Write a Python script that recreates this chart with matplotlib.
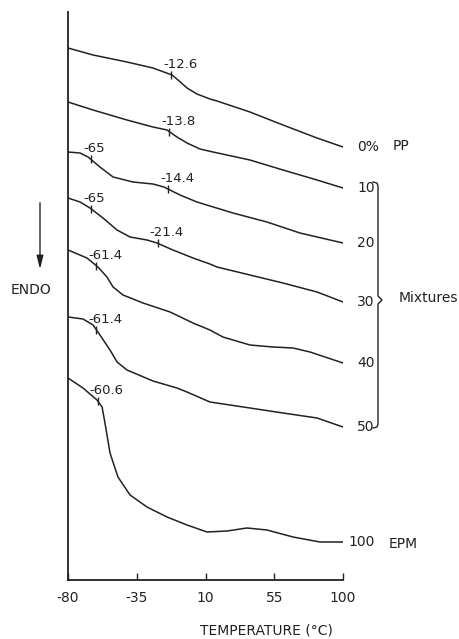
import numpy as np
import matplotlib.pyplot as plt

plt.rcParams['font.family'] = 'DejaVu Sans'
plt.rcParams['axes.unicode_minus'] = False

# DSC traces of PP/EPM mixtures (heat flow in arbitrary units, curves offset)
t_pp0 = [-80, -63.6, -41.4, -24.4, -11.9, -8.0, -2.1, 4.4, 12.9, 17.5, 39.1, 60.7, 83.0, 100]
y_pp0 = [532, 525, 518, 512, 505, 500, 492, 486, 481, 479, 468, 455, 442, 433]

t_pp10 = [-80, -63.6, -41.4, -24.4, -15.2, -8.7, -2.1, 6.4, 14.9, 39.1, 60.7, 83.0, 100]
y_pp10 = [478, 470, 460, 453, 450, 443, 437, 431, 428, 420, 410, 400, 392]

t_pp20 = [-80, -72.1, -66.9, -59.1, -50.5, -37.5, -24.4, -17.2, -6.7, 4.4, 12.9, 28.0, 50.2, 71.8, 100]
y_pp20 = [428, 427, 423, 413, 403, 398, 396, 393, 385, 378, 374, 367, 358, 347, 337]

t_pp30 = [-80, -72.1, -65.6, -57.1, -47.9, -39.4, -28.3, -21.8, -11.3, 1.8, 12.9, 17.5, 39.1, 60.7, 83.0, 100]
y_pp30 = [382, 378, 372, 362, 350, 343, 340, 337, 330, 322, 316, 313, 305, 297, 288, 278]

t_pp40 = [-80, -67.6, -60.4, -54.5, -50.5, -44.0, -30.9, -13.2, 1.8, 12.9, 21.4, 39.1, 54.2, 67.3, 78.4, 100]
y_pp40 = [330, 322, 313, 303, 293, 285, 277, 268, 257, 250, 243, 235, 233, 232, 228, 217]

t_pp50 = [-80, -70.2, -63.6, -59.1, -52.5, -47.9, -41.4, -24.4, -8.7, -2.1, 12.9, 39.1, 60.7, 83.0, 100]
y_pp50 = [263, 261, 255, 245, 230, 218, 210, 199, 192, 188, 178, 172, 167, 162, 153]

t_epm = [-80, -70.2, -61.0, -57.7, -55.8, -52.5, -47.3, -39.4, -28.3, -15.2, -2.1, 11.0, 24.1, 37.1, 50.2, 67.3, 84.9, 100]
y_epm = [202, 192, 180, 173, 157, 127, 103, 85, 73, 63, 55, 48, 49, 52, 50, 43, 38, 38]

curve_t = [t_pp0, t_pp10, t_pp20, t_pp30, t_pp40, t_pp50, t_epm]
curve_y = [y_pp0, y_pp10, y_pp20, y_pp30, y_pp40, y_pp50, y_epm]
curve_labels = ['0%', '10', '20', '30', '40', '50', '100']
# glass transitions marked on each trace
transitions = [[-12.6], [-13.8], [-65, -14.4], [-65, -21.4], [-61.4], [-61.4], [-60.6]]
xticks = [-80, -35, 10, 55, 100]

fig = plt.figure(figsize=(4.59, 6.39), dpi=100)
ax = fig.add_axes([68 / 459, 59 / 639, 275 / 459, 568 / 639])
ink = '#222222'

for t, y, lab, tgs in zip(curve_t, curve_y, curve_labels, transitions):
    ax.plot(t, y, color=ink, lw=1.1, solid_joinstyle='round')
    for tg in tgs:
        yt = np.interp(tg, t, y)
        ax.plot([tg], [yt], marker='|', ms=6, mew=1.0, color=ink)
        ax.annotate(f'{tg:g}', xy=(tg, yt), xytext=(-8, 4), textcoords='offset pixels',
                    ha='left', va='bottom', fontsize=9.5, color=ink)
    dx = 5 if lab == '100' else 14
    ax.annotate(lab, xy=(t[-1], y[-1]), xytext=(dx, 0), textcoords='offset pixels',
                ha='left', va='center', fontsize=10, color=ink, annotation_clip=False)

ax.set_xlim(-80, 100)
ax.set_ylim(0, 568)
ax.set_xticks(xticks)
ax.set_yticks([])
ax.tick_params(axis='x', direction='in', length=5, width=1, pad=8, labelsize=10, colors=ink)
for s in ['top', 'right']:
    ax.spines[s].set_visible(False)
for s in ['left', 'bottom']:
    ax.spines[s].set_linewidth(1.3)
    ax.spines[s].set_color(ink)

# overlay in pixel coordinates for the annotations outside the axes
ov = fig.add_axes([0, 0, 1, 1], facecolor='none')
ov.set_xlim(0, 459)
ov.set_ylim(639, 0)
ov.axis('off')

ov.text(266, 630, 'TEMPERATURE (°C)', ha='center', va='center', fontsize=10, color=ink)
ov.text(393, 146, 'PP', ha='left', va='center', fontsize=10, color=ink)
ov.text(389, 544, 'EPM', ha='left', va='center', fontsize=10, color=ink)
ov.text(399, 298, 'Mixtures', ha='left', va='center', fontsize=10, color=ink)

# bracket grouping the mixtures
ov.plot([373, 377, 378, 378, 382, 378, 378, 377, 373],
        [182, 183, 186, 296, 300, 304, 424, 427, 428], color=ink, lw=1.0)

# ENDO arrow
ov.annotate('', xy=(40, 272), xytext=(40, 200),
            arrowprops=dict(arrowstyle='-|>,head_length=0.8,head_width=0.2', color=ink, lw=1.0))
ov.text(31, 290, 'ENDO', ha='center', va='center', fontsize=10, color=ink)

fig.savefig('out.png', dpi=100)
